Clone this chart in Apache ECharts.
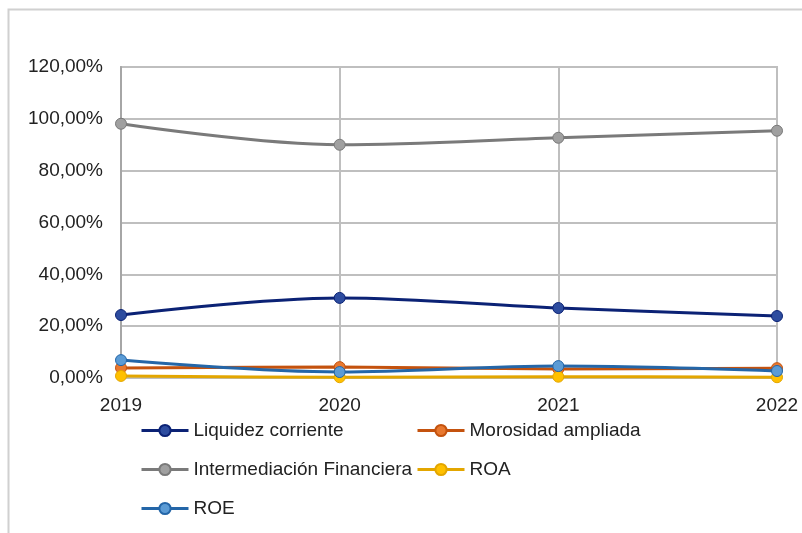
<!DOCTYPE html>
<html><head><meta charset="utf-8">
<script src="https://cdn.jsdelivr.net/npm/echarts@6/dist/echarts.min.js"></script>
<style>html,body{margin:0;padding:0;background:#fff}#c{width:802px;height:533px}</style>
</head><body><div id="c"></div>
<script>
const years = ['2019','2020','2021','2022'];
const yTicks = [0, 20, 40, 60, 80, 100, 120];
const liquidez = [24.3, 30.9, 27.0, 23.9];
const morosidad = [3.9, 4.2, 3.5, 3.8];
const intermediacion = [98.1, 90.0, 92.7, 95.4];
const roa = [0.8, 0.3, 0.5, 0.3];
const roe = [6.9, 2.3, 4.6, 2.7];

const names = ['Liquidez corriente','Morosidad ampliada','Intermediación Financiera','ROA','ROE'];
const values = [liquidez, morosidad, intermediacion, roa, roe];
const lineColors = ['#0b2275','#c4520e','#7a7a7a','#e3a600','#2466a8'];
const markColors = ['#2d4c9f','#e8782f','#a0a0a0','#ffc000','#5b9bd5'];

const FONT = '"Liberation Sans", Arial, sans-serif';
const chart = echarts.init(document.getElementById('c'), null, {renderer:'canvas'});

const legendPos = [
  {left:140, top:421},
  {left:416, top:421},
  {left:140, top:460},
  {left:416, top:460},
  {left:140, top:499}
];

chart.setOption({
  animation:false,
  backgroundColor:'#fff',
  graphic:[{type:'rect', shape:{x:8.5,y:9.5,width:900,height:600}, style:{fill:'none', stroke:'#d0d0d0', lineWidth:2}, silent:true}],
  grid:{left:121, right:25, top:67, bottom:155, show:true, borderColor:'#bfbfbf', borderWidth:2},
  legend: names.map((n,i)=>({
    data:[n], left:legendPos[i].left, top:legendPos[i].top, padding:0,
    itemWidth:47, itemHeight:14, itemGap:0,
    lineStyle:{width:3},
    textStyle:{fontFamily:FONT, fontSize:19, color:'#222'}
  })),
  xAxis:{
    type:'category', data:years, boundaryGap:false,
    axisLine:{show:true, lineStyle:{color:'#bfbfbf', width:2}},
    axisTick:{show:false},
    splitLine:{show:true, lineStyle:{color:'#bfbfbf', width:2}},
    axisLabel:{fontFamily:FONT, fontSize:19, color:'#222', margin:18, showMinLabel:true, showMaxLabel:true}
  },
  yAxis:{
    type:'value', min:0, max:120, interval:20,
    axisLine:{show:true, lineStyle:{color:'#a6a6a6', width:2}},
    axisTick:{show:false},
    splitLine:{show:true, lineStyle:{color:'#bfbfbf', width:2}},
    axisLabel:{fontFamily:FONT, fontSize:19, color:'#222', margin:18,
      formatter:v=>v.toFixed(2).replace('.',',')+'%'}
  },
  series: names.map((n,i)=>({
    name:n, type:'line', data:values[i], smooth:0.35,
    symbol:'circle', symbolSize:11,
    lineStyle:{color:lineColors[i], width:3},
    itemStyle:{color:markColors[i], borderColor:lineColors[i], borderWidth:1},
    z:2+i
  }))
});
</script></body></html>
